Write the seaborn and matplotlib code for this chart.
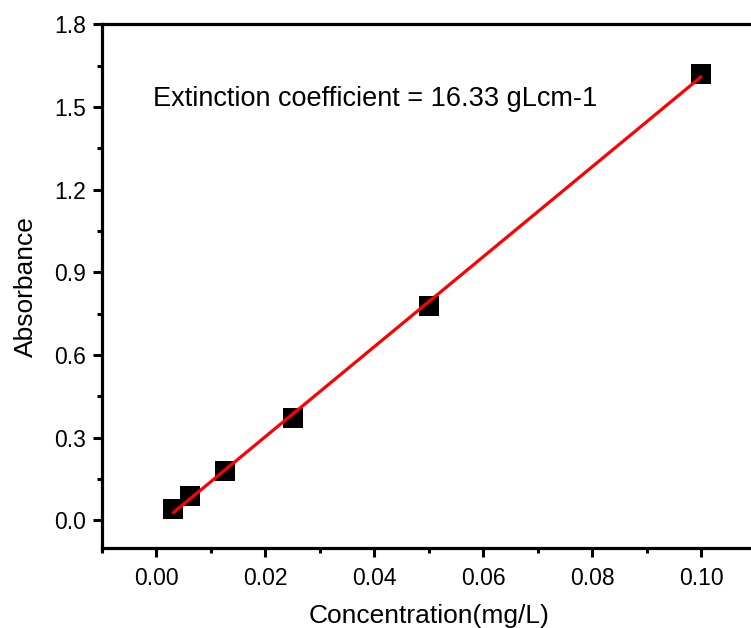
import numpy as np
import pandas as pd
import matplotlib
matplotlib.use("Agg")
import matplotlib.pyplot as plt
import seaborn as sns
from matplotlib.ticker import MultipleLocator

concentration = [0.003125, 0.00625, 0.0125, 0.025, 0.05, 0.1]
absorbance = [0.040, 0.087, 0.180, 0.373, 0.778, 1.619]
x_ticks = [0.00, 0.02, 0.04, 0.06, 0.08, 0.10]
y_ticks = [0.0, 0.3, 0.6, 0.9, 1.2, 1.5, 1.8]
annotation = "Extinction coefficient = 16.33 gLcm-1"

sns.set_style("ticks")
plt.rcParams['font.family'] = ['Liberation Sans', 'DejaVu Sans']
plt.rcParams['text.color'] = 'black'
plt.rcParams['axes.labelcolor'] = 'black'
plt.rcParams['xtick.color'] = 'black'
plt.rcParams['ytick.color'] = 'black'

df = pd.DataFrame({"x": concentration, "y": absorbance})
slope, intercept = np.polyfit(df["x"], df["y"], 1)
fit = pd.DataFrame({"x": concentration, "y": slope * np.array(concentration) + intercept})

fig = plt.figure(figsize=(7.51, 6.28), dpi=100)
ax = fig.add_axes([102 / 751, 80 / 628, (755.4 - 102) / 751, (548 - 24.3) / 628])

sns.scatterplot(data=df, x="x", y="y", marker="s", s=190, color="black",
                edgecolor="black", linewidth=0, ax=ax, zorder=2)
sns.lineplot(data=fit, x="x", y="y", color="#ff0000", linewidth=2.3, ax=ax, zorder=3)

ax.set_xlim(-0.01, 0.11)
ax.set_ylim(-0.1, 1.8)
ax.set_xticks(x_ticks)
ax.set_xticklabels([f"{v:.2f}" for v in x_ticks])
ax.set_yticks(y_ticks)
ax.set_yticklabels([f"{v:.1f}" for v in y_ticks])
ax.xaxis.set_minor_locator(MultipleLocator(0.01))
ax.yaxis.set_minor_locator(MultipleLocator(0.15))

for s in ["left", "bottom", "top", "right"]:
    ax.spines[s].set_linewidth(2.3)
    ax.spines[s].set_color("black")

ax.tick_params(which="major", length=6.5, width=2.2, labelsize=16.5, color="black",
               labelcolor="black")
ax.tick_params(which="minor", length=3.8, width=2.2, color="black")
ax.tick_params(axis="x", which="major", pad=7)
ax.tick_params(axis="y", which="major", pad=5)

ax.set_xlabel("Concentration(mg/L)", fontsize=19, labelpad=10, color="black")
ax.set_ylabel("Absorbance", fontsize=19, labelpad=12, color="black")

ax.text(-0.0007, 1.53, annotation, fontsize=19.5, va="center", ha="left", color="black")

fig.savefig("out.png", dpi=100)
